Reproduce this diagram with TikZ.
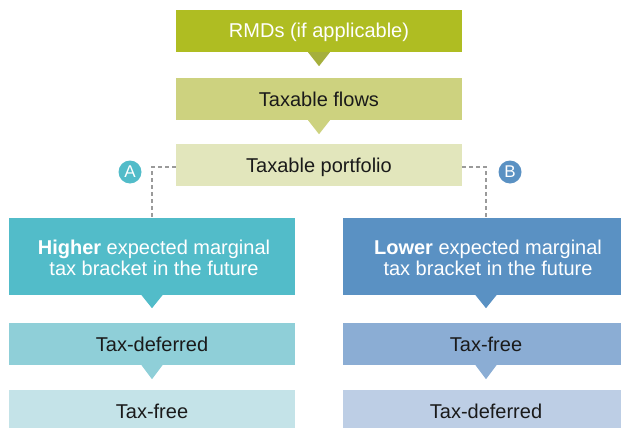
\documentclass[tikz,border=0pt]{standalone}
\usepackage{fontspec}
\setmainfont{Liberation Sans}
\definecolor{cRmd}{HTML}{AFBD22}
\definecolor{cRmdTri}{HTML}{A5AF3C}
\definecolor{cFlows}{HTML}{CDD27F}
\definecolor{cPort}{HTML}{E2E6BC}
\definecolor{cTeal}{HTML}{52BCC9}
\definecolor{cTealMid}{HTML}{8FCFD8}
\definecolor{cTealLight}{HTML}{C4E3E8}
\definecolor{cBlue}{HTML}{5A91C3}
\definecolor{cBlueMid}{HTML}{8BADD4}
\definecolor{cBlueLight}{HTML}{BDCEE5}
\definecolor{cDark}{HTML}{1A1A1A}
\definecolor{cDash}{HTML}{9A9A9A}
\begin{document}
\begin{tikzpicture}[x=1pt,y=-1pt,
  box/.style={rectangle, minimum width=286pt, minimum height=42pt, inner sep=0pt,
    font=\fontsize{20}{21}\selectfont, text height=14pt, text depth=0pt, text=cDark},
  bigbox/.style={rectangle, minimum width=286pt, minimum height=77pt, inner sep=0pt},
  bigtext/.style={align=center, inner sep=0pt, text=white, font=\fontsize{20}{21}\selectfont},
  circ/.style={circle, minimum size=23pt, inner sep=0pt, text=white, font=\fontsize{17}{17}\selectfont},
  link/.style={draw=cDash, line width=1.1pt, dash pattern=on 4pt off 3pt}
]
\useasboundingbox (0,0) rectangle (621,428);
\clip (0,0) rectangle (621,428);

% top column
\node[box, fill=cRmd, text=white] (rmd) at (319,31) {RMDs (if applicable)};
\node[box, fill=cFlows] (flows) at (319,99) {Taxable flows};
\node[box, fill=cPort] (port) at (319,165) {Taxable portfolio};
\fill[cRmdTri] (rmd.south) ++(-11,0) -- ++(22,0) -- ++(-11,14) -- cycle;
\fill[cFlows] (flows.south) ++(-11,0) -- ++(22,0) -- ++(-11,14) -- cycle;

% left column
\node[bigbox, fill=cTeal] (hi) at (152,256.5) {};
\node[bigtext] (hitext) at (154,258) {\textbf{Higher} expected marginal\\tax bracket in the future};
\node[box, fill=cTealMid] (hdef) at (152,344) {Tax-deferred};
\node[box, fill=cTealLight] (hfree) at (152,411) {Tax-free};
\fill[cTeal] (hi.south) ++(-10.5,0) -- ++(21,0) -- ++(-10.5,13) -- cycle;
\fill[cTealMid] (hdef.south) ++(-10.5,0) -- ++(21,0) -- ++(-10.5,14) -- cycle;

% right column
\node[bigbox, fill=cBlue] (lo) at (486,256.5) {};
\node[bigtext] (lotext) at (488,258) {\textbf{Lower} expected marginal\\tax bracket in the future};
\node[box, fill=cBlueMid] (lfree) at (486,344) {Tax-free};
\node[box, fill=cBlueLight] (ldef) at (486,411) {Tax-deferred};
\fill[cBlue] (lo.south) ++(-10.5,0) -- ++(21,0) -- ++(-10.5,13) -- cycle;
\fill[cBlueMid] (lfree.south) ++(-10.5,0) -- ++(21,0) -- ++(-10.5,14) -- cycle;

% dashed links
\draw[link] ([yshift=-2pt]port.west) -| (hi.north);
\draw[link] ([yshift=-2pt]port.east) -| (lo.north);

% markers
\node[circ, fill=cTeal] (A) at (130,172) {A};
\node[circ, fill=cBlue] (B) at (510,172) {B};
\end{tikzpicture}
\end{document}
